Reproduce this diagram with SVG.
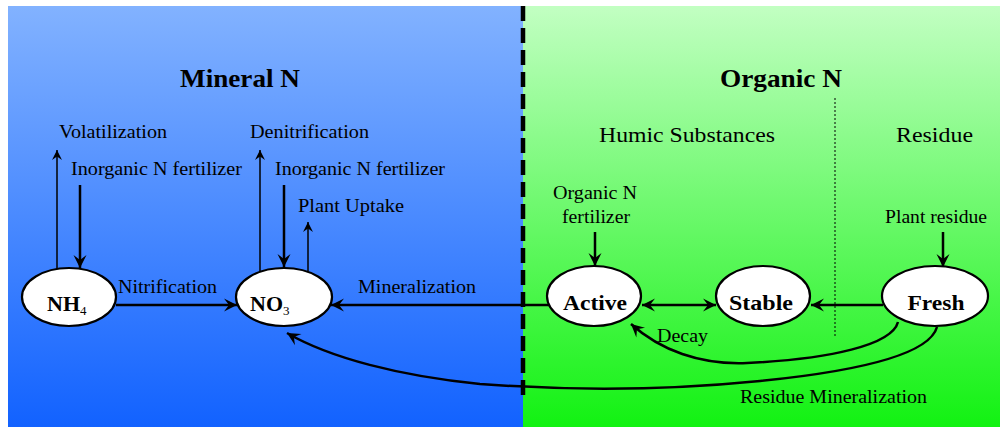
<svg xmlns="http://www.w3.org/2000/svg" width="1003" height="427" viewBox="0 0 1003 427">
<defs>
<linearGradient id="blue" x1="0" y1="0" x2="0" y2="1">
<stop offset="0" stop-color="#82B2FF"/>
<stop offset="1" stop-color="#1262FF"/>
</linearGradient>
<linearGradient id="green" x1="0" y1="0" x2="0" y2="1">
<stop offset="0" stop-color="#C2FFC2"/>
<stop offset="1" stop-color="#12F212"/>
</linearGradient>
<marker id="ah" markerUnits="userSpaceOnUse" markerWidth="16" markerHeight="16" viewBox="-14 -8 16 16" refX="0" refY="0" orient="auto-start-reverse">
<path d="M0,0 L-13,-6.5 L-8,0 L-13,6.5 Z" fill="#000"/>
</marker>
<marker id="ahs" markerUnits="userSpaceOnUse" markerWidth="14" markerHeight="14" viewBox="-12 -7 14 14" refX="0" refY="0" orient="auto">
<path d="M0,0 L-10,-5 L-6.5,0 L-10,5 Z" fill="#000"/>
</marker>
</defs>
<style>
text{font-family:"Liberation Serif","Times New Roman",serif;fill:#000}
.lbl{font-size:18.5px}
.sec{font-size:22px}
.ttl{font-size:26px;font-weight:bold}
.nd{font-size:22px;font-weight:bold}
.sub{font-size:13px;font-weight:normal}
ellipse{fill:#fff;stroke:#000;stroke-width:2.2}
.thick{stroke:#000;stroke-width:2.5;fill:none;marker-end:url(#ah)}
.thin{stroke:#000;stroke-width:1.5;fill:none;marker-end:url(#ahs)}
</style>
<rect x="0" y="0" width="1003" height="427" fill="#fff"/>
<rect x="8" y="6" width="515" height="421" fill="url(#blue)"/>
<rect x="523" y="6" width="477" height="421" fill="url(#green)"/>
<line x1="523" y1="6" x2="523" y2="402" stroke="#000" stroke-width="4.5" stroke-dasharray="15 7"/>
<line x1="835" y1="98" x2="835" y2="338" stroke="#000" stroke-width="1" stroke-dasharray="2 2"/>

<g id="headings">
<text class="ttl" x="180" y="87" textLength="120" lengthAdjust="spacingAndGlyphs">Mineral N</text>
<text class="ttl" x="720" y="87" textLength="122" lengthAdjust="spacingAndGlyphs">Organic N</text>
<text class="sec" x="599" y="142" textLength="176" lengthAdjust="spacingAndGlyphs">Humic Substances</text>
<text class="sec" x="896" y="142" textLength="77" lengthAdjust="spacingAndGlyphs">Residue</text>
</g>

<g id="connectors">
<line class="thin" x1="57" y1="269" x2="57" y2="150"/>
<line class="thick" x1="80" y1="185" x2="80" y2="268"/>
<line class="thin" x1="260" y1="272" x2="260" y2="150"/>
<line class="thick" x1="284" y1="185" x2="284" y2="267"/>
<line class="thin" x1="308" y1="271" x2="308" y2="222"/>
<line class="thick" x1="116" y1="305" x2="237" y2="305"/>
<line class="thick" x1="549" y1="305" x2="331" y2="305"/>
<line class="thick" x1="595" y1="232" x2="595" y2="266" />
<line class="thick" x1="943" y1="232" x2="943" y2="267"/>
<line class="thick" x1="642" y1="305" x2="716" y2="305" marker-start="url(#ah)"/>
<line class="thick" x1="883" y1="305" x2="811" y2="305"/>
<path class="thick" d="M898,322 C892,345 830,359 747,363 C700,365 660,350 631,324"/>
<path class="thick" d="M937,327 C930,352 870,370 760,381 C660,391 560,390 480,384 C400,376 330,358 287,333"/>
</g>

<g id="labels">
<text class="lbl" x="59" y="138" textLength="108" lengthAdjust="spacingAndGlyphs">Volatilization</text>
<text class="lbl" x="250" y="138" textLength="119" lengthAdjust="spacingAndGlyphs">Denitrification</text>
<text class="lbl" x="71" y="175" textLength="171" lengthAdjust="spacingAndGlyphs">Inorganic N fertilizer</text>
<text class="lbl" x="275" y="175" textLength="170" lengthAdjust="spacingAndGlyphs">Inorganic N fertilizer</text>
<text class="lbl" x="298" y="212" textLength="106" lengthAdjust="spacingAndGlyphs">Plant Uptake</text>
<text class="lbl" x="118" y="293" textLength="99" lengthAdjust="spacingAndGlyphs">Nitrification</text>
<text class="lbl" x="358" y="293" textLength="118" lengthAdjust="spacingAndGlyphs">Mineralization</text>
<text class="lbl" x="553" y="199" textLength="84" lengthAdjust="spacingAndGlyphs">Organic N</text>
<text class="lbl" x="562" y="223" textLength="68" lengthAdjust="spacingAndGlyphs">fertilizer</text>
<text class="lbl" x="885" y="223" textLength="102" lengthAdjust="spacingAndGlyphs">Plant residue</text>
<text class="lbl" x="657" y="342" textLength="51" lengthAdjust="spacingAndGlyphs">Decay</text>
<text class="lbl" x="740" y="403" textLength="187" lengthAdjust="spacingAndGlyphs">Residue Mineralization</text>
</g>

<g id="node-nh4">
<ellipse cx="69" cy="297" rx="47" ry="29"/>
<text class="nd" x="47" y="311">NH<tspan class="sub" dy="4">4</tspan></text>
</g>
<g id="node-no3">
<ellipse cx="284" cy="297" rx="48" ry="29"/>
<text class="nd" x="250" y="311">NO<tspan class="sub" dy="4">3</tspan></text>
</g>
<g id="node-active">
<ellipse cx="594" cy="296" rx="47" ry="30"/>
<text class="nd" x="595" y="310" text-anchor="middle" textLength="64" lengthAdjust="spacingAndGlyphs">Active</text>
</g>
<g id="node-stable">
<ellipse cx="763" cy="296" rx="47" ry="30"/>
<text class="nd" x="761" y="310" text-anchor="middle" textLength="64" lengthAdjust="spacingAndGlyphs">Stable</text>
</g>
<g id="node-fresh">
<ellipse cx="935" cy="296" rx="53" ry="30"/>
<text class="nd" x="936" y="310" text-anchor="middle" textLength="57" lengthAdjust="spacingAndGlyphs">Fresh</text>
</g>
</svg>
